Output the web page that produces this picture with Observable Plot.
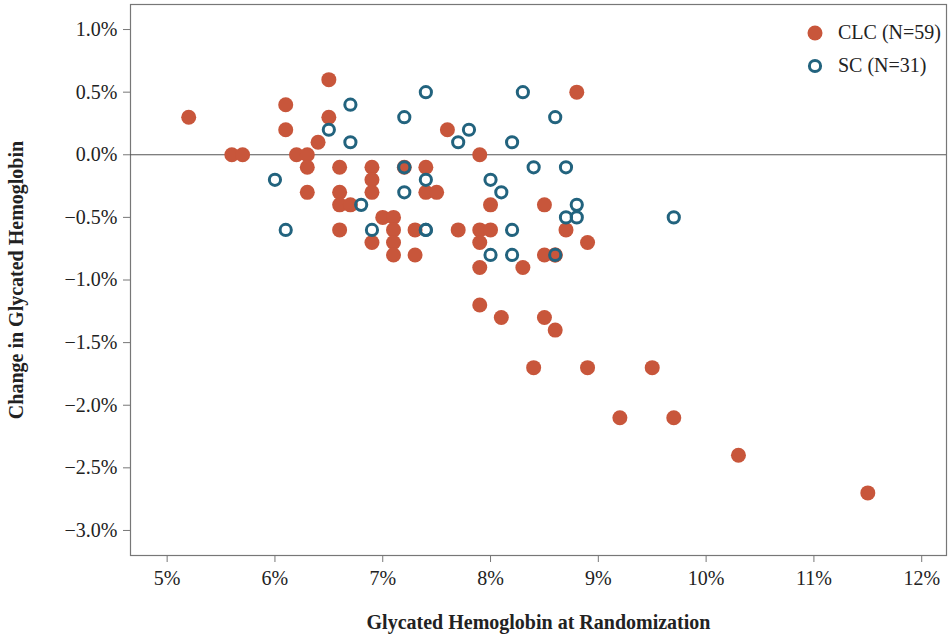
<!DOCTYPE html>
<html>
<head>
<meta charset="utf-8">
<script src="https://cdn.jsdelivr.net/npm/d3@7"></script>
<script src="https://cdn.jsdelivr.net/npm/@observablehq/plot@0.6"></script>
<style>
  body { margin: 0; background: #fff; font-family: "Liberation Serif", "Times New Roman", serif; }
  #wrap { position: relative; width: 948px; height: 634px; }
  g[aria-label="y-axis label"] text, g[aria-label="x-axis label"] text { font-weight: bold; }
  .legend { position: absolute; left: 806px; top: 16px; font-family: "Liberation Serif", serif; font-size: 20px; color: #222; }
  .legend .row { display: flex; align-items: center; height: 33px; }
  .legend .sw { width: 18px; height: 18px; margin-right: 14px; display: flex; align-items: center; justify-content: center; }
</style>
</head>
<body>
<div id="wrap"></div>
<script>
// CLC group (N=59): baseline HbA1c (%) and change (%)
const clcBaseline = [5.2, 5.6, 5.7, 6.1, 6.1, 6.2, 6.3, 6.3, 6.3, 6.4, 6.5, 6.5,
  6.6, 6.6, 6.6, 6.6, 6.7, 6.9, 6.9, 6.9, 6.9, 7.0, 7.1, 7.1, 7.1, 7.1, 7.2,
  7.3, 7.3, 7.4, 7.4, 7.5, 7.6, 7.7, 7.9, 7.9, 7.9, 7.9, 7.9, 8.0, 8.0, 8.1,
  8.3, 8.4, 8.5, 8.5, 8.5, 8.6, 8.6, 8.6, 8.7, 8.8, 8.9, 8.9, 9.2, 9.5, 9.7, 10.3, 11.5];
const clcChange = [0.3, 0.0, 0.0, 0.4, 0.2, 0.0, 0.0, -0.1, -0.3, 0.1, 0.6, 0.3,
  -0.1, -0.3, -0.4, -0.6, -0.4, -0.1, -0.2, -0.3, -0.7, -0.5, -0.5, -0.6, -0.7, -0.8, -0.1,
  -0.6, -0.8, -0.1, -0.3, -0.3, 0.2, -0.6, 0.0, -0.6, -0.7, -0.9, -1.2, -0.4, -0.6, -1.3,
  -0.9, -1.7, -0.4, -0.8, -1.3, -0.8, -1.4, -0.8, -0.6, 0.5, -0.7, -1.7, -2.1, -1.7, -2.1, -2.4, -2.7];

// SC group (N=31)
const scBaseline = [6.0, 6.1, 6.5, 6.7, 6.7, 6.8, 6.9, 7.2, 7.2, 7.2, 7.4, 7.4, 7.4,
  7.7, 7.8, 8.0, 8.0, 8.1, 8.2, 8.2, 8.2, 8.3, 8.4, 8.6, 8.6, 8.7, 8.7, 8.8, 8.8, 9.7, 7.4];
const scChange = [-0.2, -0.6, 0.2, 0.4, 0.1, -0.4, -0.6, 0.3, -0.1, -0.3, 0.5, -0.2, -0.6,
  0.1, 0.2, -0.2, -0.8, -0.3, 0.1, -0.6, -0.8, 0.5, -0.1, 0.3, -0.8, -0.1, -0.5, -0.4, -0.5, -0.5, -0.6];

const xTicks = [5, 6, 7, 8, 9, 10, 11, 12];
const yTicks = [1.0, 0.5, 0.0, -0.5, -1.0, -1.5, -2.0, -2.5, -3.0];

const groups = ["CLC (N=59)", "SC (N=31)"];
const colors = ["#c8563b", "#22637e"];

const clc = clcBaseline.map((x, i) => ({x, y: clcChange[i]}));
const sc = scBaseline.map((x, i) => ({x, y: scChange[i]}));

const fmtY = d => (d < 0 ? "\u2212" : "") + Math.abs(d).toFixed(1) + "%";

const chart = Plot.plot({
  width: 948,
  height: 634,
  marginLeft: 130,
  marginTop: 4,
  marginRight: 2,
  marginBottom: 79,
  style: {fontFamily: "Liberation Serif, Times New Roman, serif", fontSize: "20px", color: "#222", background: "#fff"},
  x: {domain: [4.66, 12.23]},
  y: {domain: [-3.2, 1.2]},
  marks: [
    Plot.frame({stroke: "#777", strokeWidth: 1.2}),
    Plot.ruleY([0], {stroke: "#555", strokeWidth: 1.2}),
    Plot.axisX({ticks: xTicks, tickFormat: d => d + "%", tickSize: 7, tickPadding: 8, stroke: "#777",
      label: "Glycated Hemoglobin at Randomization", labelAnchor: "center", labelArrow: "none", labelOffset: 73, fontSize: 20}),
    Plot.axisY({ticks: yTicks, tickFormat: fmtY, tickSize: 7, tickPadding: 6, stroke: "#777",
      label: "Change in Glycated Hemoglobin", labelAnchor: "center", labelArrow: "none", labelOffset: 122, fontSize: 20}),
    Plot.dot(clc, {x: "x", y: "y", r: 7.5, fill: colors[0], stroke: "none"}),
    Plot.dot(sc, {x: "x", y: "y", r: 5.6, fill: "none", stroke: colors[1], strokeWidth: 3})
  ]
});

const wrap = document.getElementById("wrap");
wrap.appendChild(chart);

const legend = document.createElement("div");
legend.className = "legend";
legend.innerHTML = groups.map((g, i) => `<div class="row"><span class="sw">${
  i === 0
    ? `<svg width="18" height="18"><circle cx="9" cy="9" r="7.5" fill="${colors[0]}"/></svg>`
    : `<svg width="18" height="18"><circle cx="9" cy="9" r="5.6" fill="none" stroke="${colors[1]}" stroke-width="3"/></svg>`
}</span><span>${g}</span></div>`).join("");
wrap.appendChild(legend);
</script>
</body>
</html>
